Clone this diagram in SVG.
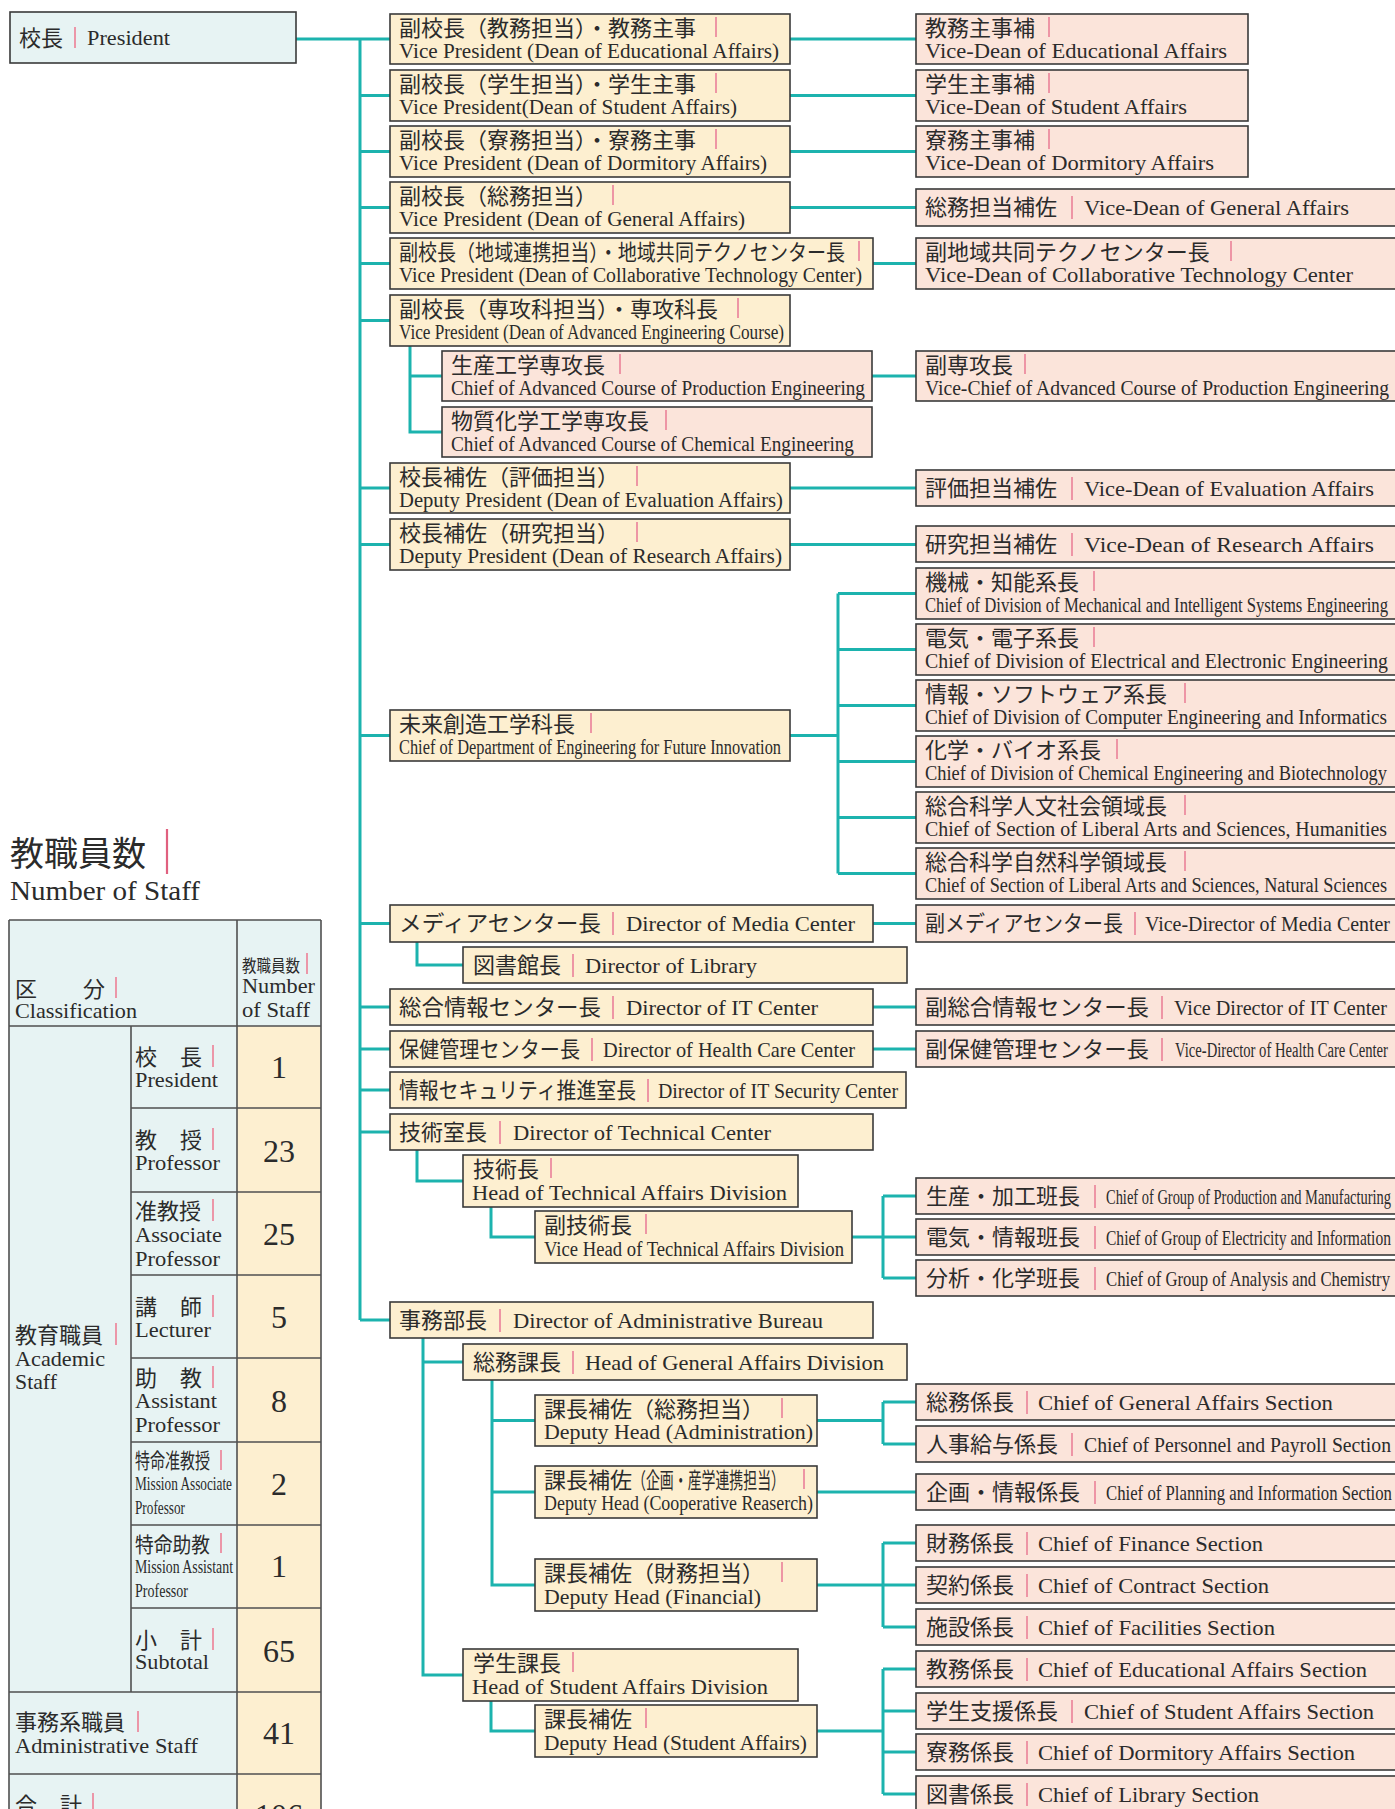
<svg xmlns="http://www.w3.org/2000/svg" width="1395" height="1809" viewBox="0 0 1395 1809">
<style>
.L{fill:#fdefd0;stroke:#3a3a3a;stroke-width:1.6}
.R{fill:#fbe4da;stroke:#3a3a3a;stroke-width:1.6}
.P{fill:#e7f3f3;stroke:#3a3a3a;stroke-width:1.6}
.C{fill:#e7f3f3}
.Y{fill:#fdefd0}
.tl{stroke:#505050;stroke-width:1.6;fill:none}
.cn{stroke:#1cb3ae;stroke-width:3;fill:none}
.bar{stroke:#ec8ca0;stroke-width:1.8}
text{font-family:"Liberation Serif","Noto Sans CJK JP",serif;fill:#2b2b2b}
.jp{font-size:22px}
.en{font-size:20px}
.e1{font-size:22px}
.num{font-size:32px;text-anchor:middle}
</style>
<rect width="1395" height="1809" fill="#ffffff"/>

<g id="connectors">
<path class="cn" d="M296,39H360M360,39V1320M360,39H390M360,95.5H390M360,151.5H390M360,207.5H390M360,263.5H390M360,320.5H390M360,488H390M360,544.5H390M360,735.5H390M360,923.5H390M360,1007H390M360,1049H390M360,1090H390M360,1132H390M360,1320H390"/>
<path class="cn" d="M790,39H916M790,95.5H916M790,151.5H916M790,207.5H916M873,263.5H916M872,376H916M790,488H916M790,544.5H916"/>
<path class="cn" d="M410,346V432H442M410,376H442"/>
<path class="cn" d="M790,735.5H838M838,593.5V873.5M838,593.5H916M838,649.5H916M838,705.5H916M838,761.5H916M838,817.5H916M838,873.5H916"/>
<path class="cn" d="M873,923.5H916M417,942V965H463M873,1007H916M873,1049H916"/>
<path class="cn" d="M417,1150V1181H463M491,1207V1237H535M852,1237H883M883,1196V1278M883,1196H916M883,1237H916M883,1278H916"/>
<path class="cn" d="M423,1338V1675H463M423,1362H463M492,1380V1585H535M492,1420.5H535M492,1492H535M491,1701V1731H535"/>
<path class="cn" d="M817,1420.5H883M883,1402V1444M883,1402H916M883,1444H916M817,1492H916M817,1585H883M883,1543V1627M883,1543H916M883,1585H916M883,1627H916M817,1731H883M883,1669V1794M883,1669H916M883,1711H916M883,1752H916M883,1794H916"/>
</g>

<g id="president">
<rect class="P" x="10" y="12" width="286" height="51"/>
<text class="jp" x="19" y="46">校長</text><line class="bar" x1="75" y1="27" x2="75" y2="48"/>
<text class="e1" x="87" y="45" textLength="83" lengthAdjust="spacingAndGlyphs">President</text>
</g>

<g id="vp-edu">
<rect class="L" x="390" y="14" width="400" height="50"/>
<text class="jp" x="399" y="36">副校長（教務担当）・教務主事</text><line class="bar" x1="716" y1="17" x2="716" y2="37"/>
<text class="en" x="399" y="58" textLength="380" lengthAdjust="spacingAndGlyphs">Vice President (Dean of Educational Affairs)</text>
</g>
<g id="vp-stu">
<rect class="L" x="390" y="70" width="400" height="51"/>
<text class="jp" x="399" y="92">副校長（学生担当）・学生主事</text><line class="bar" x1="716" y1="73" x2="716" y2="93"/>
<text class="en" x="399" y="114" textLength="338" lengthAdjust="spacingAndGlyphs">Vice President(Dean of Student Affairs)</text>
</g>
<g id="vp-dorm">
<rect class="L" x="390" y="126" width="400" height="51"/>
<text class="jp" x="399" y="148">副校長（寮務担当）・寮務主事</text><line class="bar" x1="716" y1="129" x2="716" y2="149"/>
<text class="en" x="399" y="170" textLength="368" lengthAdjust="spacingAndGlyphs">Vice President (Dean of Dormitory Affairs)</text>
</g>
<g id="vp-gen">
<rect class="L" x="390" y="182" width="400" height="51"/>
<text class="jp" x="399" y="204">副校長（総務担当）</text><line class="bar" x1="613" y1="185" x2="613" y2="205"/>
<text class="en" x="399" y="226" textLength="346" lengthAdjust="spacingAndGlyphs">Vice President (Dean of General Affairs)</text>
</g>
<g id="vp-collab">
<rect class="L" x="390" y="238" width="483" height="51"/>
<text class="jp" x="399" y="260" textLength="446" lengthAdjust="spacingAndGlyphs">副校長（地域連携担当）・地域共同テクノセンター長</text><line class="bar" x1="859" y1="241" x2="859" y2="261"/>
<text class="en" x="399" y="282" textLength="463" lengthAdjust="spacingAndGlyphs">Vice President (Dean of Collaborative Technology Center)</text>
</g>
<g id="vp-adv">
<rect class="L" x="390" y="295" width="400" height="51"/>
<text class="jp" x="399" y="317">副校長（専攻科担当）・専攻科長</text><line class="bar" x1="738" y1="298" x2="738" y2="318"/>
<text class="en" x="399" y="339" textLength="385" lengthAdjust="spacingAndGlyphs">Vice President  (Dean of Advanced Engineering Course)</text>
</g>
<g id="adv-prod">
<rect class="R" x="442" y="351" width="430" height="50"/>
<text class="jp" x="451" y="373">生産工学専攻長</text><line class="bar" x1="620" y1="354" x2="620" y2="374"/>
<text class="en" x="451" y="395" textLength="414" lengthAdjust="spacingAndGlyphs">Chief of Advanced Course of Production Engineering</text>
</g>
<g id="adv-chem">
<rect class="R" x="442" y="407" width="430" height="50"/>
<text class="jp" x="451" y="429">物質化学工学専攻長</text><line class="bar" x1="666" y1="410" x2="666" y2="430"/>
<text class="en" x="451" y="451" textLength="403" lengthAdjust="spacingAndGlyphs">Chief of Advanced Course of Chemical Engineering</text>
</g>
<g id="dp-eval">
<rect class="L" x="390" y="463" width="400" height="50"/>
<text class="jp" x="399" y="485">校長補佐（評価担当）</text><line class="bar" x1="637" y1="466" x2="637" y2="486"/>
<text class="en" x="399" y="507" textLength="384" lengthAdjust="spacingAndGlyphs">Deputy President (Dean of Evaluation Affairs)</text>
</g>
<g id="dp-res">
<rect class="L" x="390" y="519" width="400" height="51"/>
<text class="jp" x="399" y="541">校長補佐（研究担当）</text><line class="bar" x1="637" y1="522" x2="637" y2="542"/>
<text class="en" x="399" y="563" textLength="383" lengthAdjust="spacingAndGlyphs">Deputy President (Dean of Research Affairs)</text>
</g>
<g id="dept-future">
<rect class="L" x="390" y="710" width="400" height="51"/>
<text class="jp" x="399" y="732">未来創造工学科長</text><line class="bar" x1="591" y1="713" x2="591" y2="733"/>
<text class="en" x="399" y="754" textLength="382" lengthAdjust="spacingAndGlyphs">Chief of Department of Engineering for Future Innovation</text>
</g>

<g id="media">
<rect class="L" x="390" y="905" width="483" height="37"/>
<text class="jp" x="399" y="931" textLength="202" lengthAdjust="spacingAndGlyphs">メディアセンター長</text><line class="bar" x1="613" y1="912" x2="613" y2="935"/>
<text class="e1" x="626" y="931" textLength="229" lengthAdjust="spacingAndGlyphs">Director of Media Center</text>
</g>
<g id="library">
<rect class="L" x="463" y="947" width="444" height="36"/>
<text class="jp" x="473" y="973">図書館長</text><line class="bar" x1="573" y1="954" x2="573" y2="977"/>
<text class="e1" x="585" y="973" textLength="172" lengthAdjust="spacingAndGlyphs">Director of Library</text>
</g>
<g id="itc">
<rect class="L" x="390" y="989" width="483" height="36"/>
<text class="jp" x="399" y="1015" textLength="202" lengthAdjust="spacingAndGlyphs">総合情報センター長</text><line class="bar" x1="613" y1="996" x2="613" y2="1019"/>
<text class="e1" x="626" y="1015" textLength="192" lengthAdjust="spacingAndGlyphs">Director of IT Center</text>
</g>
<g id="health">
<rect class="L" x="390" y="1031" width="483" height="36"/>
<text class="jp" x="399" y="1057" textLength="181" lengthAdjust="spacingAndGlyphs">保健管理センター長</text><line class="bar" x1="592" y1="1038" x2="592" y2="1061"/>
<text class="e1" x="603" y="1057" textLength="252" lengthAdjust="spacingAndGlyphs">Director of Health Care Center</text>
</g>
<g id="security">
<rect class="L" x="390" y="1072" width="516" height="36"/>
<text class="jp" x="399" y="1098" textLength="237" lengthAdjust="spacingAndGlyphs">情報セキュリティ推進室長</text><line class="bar" x1="648" y1="1079" x2="648" y2="1102"/>
<text class="e1" x="658" y="1098" textLength="240" lengthAdjust="spacingAndGlyphs">Director of IT Security Center</text>
</g>
<g id="tech-center">
<rect class="L" x="390" y="1114" width="483" height="36"/>
<text class="jp" x="399" y="1140">技術室長</text><line class="bar" x1="500" y1="1121" x2="500" y2="1144"/>
<text class="e1" x="513" y="1140" textLength="258" lengthAdjust="spacingAndGlyphs">Director of Technical Center</text>
</g>
<g id="tech-head">
<rect class="L" x="463" y="1155" width="335" height="52"/>
<text class="jp" x="473" y="1177">技術長</text><line class="bar" x1="551" y1="1158" x2="551" y2="1178"/>
<text class="e1" x="472" y="1200" textLength="315" lengthAdjust="spacingAndGlyphs">Head of Technical Affairs Division</text>
</g>
<g id="tech-vice">
<rect class="L" x="535" y="1211" width="317" height="52"/>
<text class="jp" x="544" y="1233">副技術長</text><line class="bar" x1="646" y1="1214" x2="646" y2="1234"/>
<text class="en" x="544" y="1256" textLength="300" lengthAdjust="spacingAndGlyphs">Vice Head of Technical Affairs Division</text>
</g>
<g id="admin-bureau">
<rect class="L" x="390" y="1302" width="483" height="36"/>
<text class="jp" x="399" y="1328">事務部長</text><line class="bar" x1="500" y1="1309" x2="500" y2="1332"/>
<text class="e1" x="513" y="1328" textLength="310" lengthAdjust="spacingAndGlyphs">Director of Administrative Bureau</text>
</g>
<g id="gen-div">
<rect class="L" x="463" y="1344" width="444" height="36"/>
<text class="jp" x="473" y="1370">総務課長</text><line class="bar" x1="573" y1="1351" x2="573" y2="1374"/>
<text class="e1" x="585" y="1370" textLength="299" lengthAdjust="spacingAndGlyphs">Head of General Affairs Division</text>
</g>
<g id="dh-admin">
<rect class="L" x="535" y="1395" width="282" height="51"/>
<text class="jp" x="544" y="1417">課長補佐（総務担当）</text><line class="bar" x1="782" y1="1398" x2="782" y2="1418"/>
<text class="en" x="544" y="1439" textLength="269" lengthAdjust="spacingAndGlyphs">Deputy Head (Administration)</text>
</g>
<g id="dh-coop">
<rect class="L" x="535" y="1466" width="282" height="52"/>
<text class="jp" x="544" y="1488">課長補佐</text><text class="jp" x="632" y="1488" textLength="153" lengthAdjust="spacingAndGlyphs">（企画・産学連携担当）</text><line class="bar" x1="804" y1="1469" x2="804" y2="1489"/>
<text class="en" x="544" y="1510" textLength="269" lengthAdjust="spacingAndGlyphs">Deputy Head (Cooperative Reaserch)</text>
</g>
<g id="dh-fin">
<rect class="L" x="535" y="1559" width="282" height="52"/>
<text class="jp" x="544" y="1581">課長補佐（財務担当）</text><line class="bar" x1="782" y1="1562" x2="782" y2="1582"/>
<text class="e1" x="544" y="1604" textLength="217" lengthAdjust="spacingAndGlyphs">Deputy Head (Financial)</text>
</g>
<g id="stu-div">
<rect class="L" x="463" y="1649" width="335" height="52"/>
<text class="jp" x="473" y="1671">学生課長</text><line class="bar" x1="573" y1="1652" x2="573" y2="1672"/>
<text class="e1" x="472" y="1694" textLength="296" lengthAdjust="spacingAndGlyphs">Head of Student Affairs Division</text>
</g>
<g id="dh-stu">
<rect class="L" x="535" y="1705" width="282" height="52"/>
<text class="jp" x="544" y="1727">課長補佐</text><line class="bar" x1="646" y1="1708" x2="646" y2="1728"/>
<text class="e1" x="544" y="1750" textLength="263" lengthAdjust="spacingAndGlyphs">Deputy Head (Student Affairs)</text>
</g>

<g id="vd-edu">
<rect class="R" x="916" y="14" width="332" height="50"/>
<text class="jp" x="925" y="36">教務主事補</text><line class="bar" x1="1049" y1="17" x2="1049" y2="37"/>
<text class="e1" x="925" y="58" textLength="302" lengthAdjust="spacingAndGlyphs">Vice-Dean of Educational Affairs</text>
</g>
<g id="vd-stu">
<rect class="R" x="916" y="70" width="332" height="51"/>
<text class="jp" x="925" y="92">学生主事補</text><line class="bar" x1="1049" y1="73" x2="1049" y2="93"/>
<text class="e1" x="925" y="114" textLength="262" lengthAdjust="spacingAndGlyphs">Vice-Dean of Student Affairs</text>
</g>
<g id="vd-dorm">
<rect class="R" x="916" y="126" width="332" height="51"/>
<text class="jp" x="925" y="148">寮務主事補</text><line class="bar" x1="1049" y1="129" x2="1049" y2="149"/>
<text class="e1" x="925" y="170" textLength="289" lengthAdjust="spacingAndGlyphs">Vice-Dean of Dormitory Affairs</text>
</g>
<g id="vd-gen">
<rect class="R" x="916" y="189" width="484" height="37"/>
<text class="jp" x="925" y="215">総務担当補佐</text><line class="bar" x1="1072" y1="196" x2="1072" y2="219"/>
<text class="e1" x="1084" y="215" textLength="265" lengthAdjust="spacingAndGlyphs">Vice-Dean of General Affairs</text>
</g>
<g id="vd-collab">
<rect class="R" x="916" y="238" width="484" height="51"/>
<text class="jp" x="925" y="260">副地域共同テクノセンター長</text><line class="bar" x1="1231" y1="241" x2="1231" y2="261"/>
<text class="e1" x="925" y="282" textLength="428" lengthAdjust="spacingAndGlyphs">Vice-Dean of Collaborative Technology Center</text>
</g>
<g id="vc-adv">
<rect class="R" x="916" y="351" width="484" height="50"/>
<text class="jp" x="925" y="373">副専攻長</text><line class="bar" x1="1025" y1="354" x2="1025" y2="374"/>
<text class="en" x="925" y="395" textLength="464" lengthAdjust="spacingAndGlyphs">Vice-Chief of Advanced Course of Production Engineering</text>
</g>
<g id="vd-eval">
<rect class="R" x="916" y="470" width="484" height="36"/>
<text class="jp" x="925" y="496">評価担当補佐</text><line class="bar" x1="1072" y1="477" x2="1072" y2="500"/>
<text class="e1" x="1084" y="496" textLength="290" lengthAdjust="spacingAndGlyphs">Vice-Dean of Evaluation Affairs</text>
</g>
<g id="vd-res">
<rect class="R" x="916" y="526" width="484" height="36"/>
<text class="jp" x="925" y="552">研究担当補佐</text><line class="bar" x1="1072" y1="533" x2="1072" y2="556"/>
<text class="e1" x="1084" y="552" textLength="290" lengthAdjust="spacingAndGlyphs">Vice-Dean of Research Affairs</text>
</g>

<g id="div-mech">
<rect class="R" x="916" y="568" width="484" height="51"/>
<text class="jp" x="925" y="590">機械・知能系長</text><line class="bar" x1="1094" y1="571" x2="1094" y2="591"/>
<text class="en" x="925" y="612" textLength="463" lengthAdjust="spacingAndGlyphs">Chief of Division of Mechanical and Intelligent Systems Engineering</text>
</g>
<g id="div-elec">
<rect class="R" x="916" y="624" width="484" height="51"/>
<text class="jp" x="925" y="646">電気・電子系長</text><line class="bar" x1="1094" y1="627" x2="1094" y2="647"/>
<text class="en" x="925" y="668" textLength="463" lengthAdjust="spacingAndGlyphs">Chief of Division of Electrical and Electronic Engineering</text>
</g>
<g id="div-comp">
<rect class="R" x="916" y="680" width="484" height="51"/>
<text class="jp" x="925" y="702">情報・ソフトウェア系長</text><line class="bar" x1="1185" y1="683" x2="1185" y2="703"/>
<text class="en" x="925" y="724" textLength="462" lengthAdjust="spacingAndGlyphs">Chief of Division of Computer Engineering and Informatics</text>
</g>
<g id="div-chem">
<rect class="R" x="916" y="736" width="484" height="51"/>
<text class="jp" x="925" y="758">化学・バイオ系長</text><line class="bar" x1="1117" y1="739" x2="1117" y2="759"/>
<text class="en" x="925" y="780" textLength="462" lengthAdjust="spacingAndGlyphs">Chief of Division of Chemical Engineering and Biotechnology</text>
</g>
<g id="sec-hum">
<rect class="R" x="916" y="792" width="484" height="51"/>
<text class="jp" x="925" y="814">総合科学人文社会領域長</text><line class="bar" x1="1185" y1="795" x2="1185" y2="815"/>
<text class="en" x="925" y="836" textLength="462" lengthAdjust="spacingAndGlyphs">Chief of Section of Liberal Arts and Sciences, Humanities</text>
</g>
<g id="sec-nat">
<rect class="R" x="916" y="848" width="484" height="51"/>
<text class="jp" x="925" y="870">総合科学自然科学領域長</text><line class="bar" x1="1185" y1="851" x2="1185" y2="871"/>
<text class="en" x="925" y="892" textLength="462" lengthAdjust="spacingAndGlyphs">Chief of Section of Liberal Arts and Sciences, Natural Sciences</text>
</g>

<g id="vd-media">
<rect class="R" x="916" y="905" width="484" height="37"/>
<text class="jp" x="925" y="931" textLength="198" lengthAdjust="spacingAndGlyphs">副メディアセンター長</text><line class="bar" x1="1135" y1="912" x2="1135" y2="935"/>
<text class="e1" x="1145" y="931" textLength="245" lengthAdjust="spacingAndGlyphs">Vice-Director of Media Center</text>
</g>
<g id="vd-itc">
<rect class="R" x="916" y="989" width="484" height="36"/>
<text class="jp" x="925" y="1015" textLength="224" lengthAdjust="spacingAndGlyphs">副総合情報センター長</text><line class="bar" x1="1162" y1="996" x2="1162" y2="1019"/>
<text class="e1" x="1174" y="1015" textLength="213" lengthAdjust="spacingAndGlyphs">Vice Director of IT Center</text>
</g>
<g id="vd-health">
<rect class="R" x="916" y="1031" width="484" height="36"/>
<text class="jp" x="925" y="1057" textLength="224" lengthAdjust="spacingAndGlyphs">副保健管理センター長</text><line class="bar" x1="1162" y1="1038" x2="1162" y2="1061"/>
<text class="en" x="1175" y="1057" textLength="213" lengthAdjust="spacingAndGlyphs">Vice-Director of Health Care Center</text>
</g>

<g id="grp-prod">
<rect class="R" x="916" y="1178" width="484" height="36"/>
<text class="jp" x="926" y="1204">生産・加工班長</text><line class="bar" x1="1095" y1="1185" x2="1095" y2="1208"/>
<text class="e1" x="1106" y="1204" textLength="285" lengthAdjust="spacingAndGlyphs">Chief of Group of Production and Manufacturing</text>
</g>
<g id="grp-elec">
<rect class="R" x="916" y="1219" width="484" height="36"/>
<text class="jp" x="926" y="1245">電気・情報班長</text><line class="bar" x1="1095" y1="1226" x2="1095" y2="1249"/>
<text class="e1" x="1106" y="1245" textLength="285" lengthAdjust="spacingAndGlyphs">Chief of Group of Electricity and Information</text>
</g>
<g id="grp-anal">
<rect class="R" x="916" y="1260" width="484" height="36"/>
<text class="jp" x="926" y="1286">分析・化学班長</text><line class="bar" x1="1095" y1="1267" x2="1095" y2="1290"/>
<text class="e1" x="1106" y="1286" textLength="284" lengthAdjust="spacingAndGlyphs">Chief of Group of Analysis and Chemistry</text>
</g>

<g id="sec-gen">
<rect class="R" x="916" y="1384" width="484" height="36"/>
<text class="jp" x="926" y="1410">総務係長</text><line class="bar" x1="1027" y1="1391" x2="1027" y2="1414"/>
<text class="e1" x="1038" y="1410" textLength="295" lengthAdjust="spacingAndGlyphs">Chief of General Affairs Section</text>
</g>
<g id="sec-pers">
<rect class="R" x="916" y="1426" width="484" height="36"/>
<text class="jp" x="926" y="1452">人事給与係長</text><line class="bar" x1="1072" y1="1433" x2="1072" y2="1456"/>
<text class="e1" x="1084" y="1452" textLength="307" lengthAdjust="spacingAndGlyphs">Chief of Personnel and Payroll Section</text>
</g>
<g id="sec-plan">
<rect class="R" x="916" y="1474" width="484" height="36"/>
<text class="jp" x="926" y="1500">企画・情報係長</text><line class="bar" x1="1095" y1="1481" x2="1095" y2="1504"/>
<text class="e1" x="1106" y="1500" textLength="286" lengthAdjust="spacingAndGlyphs">Chief of Planning and Information Section</text>
</g>
<g id="sec-fin">
<rect class="R" x="916" y="1525" width="484" height="36"/>
<text class="jp" x="926" y="1551">財務係長</text><line class="bar" x1="1027" y1="1532" x2="1027" y2="1555"/>
<text class="e1" x="1038" y="1551" textLength="225" lengthAdjust="spacingAndGlyphs">Chief of Finance Section</text>
</g>
<g id="sec-cont">
<rect class="R" x="916" y="1567" width="484" height="36"/>
<text class="jp" x="926" y="1593">契約係長</text><line class="bar" x1="1027" y1="1574" x2="1027" y2="1597"/>
<text class="e1" x="1038" y="1593" textLength="231" lengthAdjust="spacingAndGlyphs">Chief of Contract Section</text>
</g>
<g id="sec-fac">
<rect class="R" x="916" y="1609" width="484" height="36"/>
<text class="jp" x="926" y="1635">施設係長</text><line class="bar" x1="1027" y1="1616" x2="1027" y2="1639"/>
<text class="e1" x="1038" y="1635" textLength="237" lengthAdjust="spacingAndGlyphs">Chief of Facilities Section</text>
</g>
<g id="sec-edu">
<rect class="R" x="916" y="1651" width="484" height="36"/>
<text class="jp" x="926" y="1677">教務係長</text><line class="bar" x1="1027" y1="1658" x2="1027" y2="1681"/>
<text class="e1" x="1038" y="1677" textLength="329" lengthAdjust="spacingAndGlyphs">Chief of Educational Affairs Section</text>
</g>
<g id="sec-stu">
<rect class="R" x="916" y="1693" width="484" height="36"/>
<text class="jp" x="926" y="1719">学生支援係長</text><line class="bar" x1="1072" y1="1700" x2="1072" y2="1723"/>
<text class="e1" x="1084" y="1719" textLength="290" lengthAdjust="spacingAndGlyphs">Chief of Student Affairs Section</text>
</g>
<g id="sec-dorm">
<rect class="R" x="916" y="1734" width="484" height="36"/>
<text class="jp" x="926" y="1760">寮務係長</text><line class="bar" x1="1027" y1="1741" x2="1027" y2="1764"/>
<text class="e1" x="1038" y="1760" textLength="317" lengthAdjust="spacingAndGlyphs">Chief of Dormitory Affairs Section</text>
</g>
<g id="sec-lib">
<rect class="R" x="916" y="1776" width="484" height="40"/>
<text class="jp" x="926" y="1802">図書係長</text><line class="bar" x1="1027" y1="1783" x2="1027" y2="1806"/>
<text class="e1" x="1038" y="1802" textLength="221" lengthAdjust="spacingAndGlyphs">Chief of Library Section</text>
</g>

<g id="staff-table">
<text x="10" y="866" style="font-size:34px">教職員数</text>
<line x1="167" y1="829" x2="167" y2="874" stroke="#e0607f" stroke-width="2.2"/>
<text x="10" y="900" style="font-size:27px" textLength="190" lengthAdjust="spacingAndGlyphs">Number of Staff</text>

<rect class="C" x="9" y="920" width="312" height="900"/>
<rect class="Y" x="237" y="1026" width="84" height="800"/>
<path class="tl" d="M9,920H321M9,920V1815M321,920V1815M237,920V1815M131,1026V1692M9,1026H321M131,1108H321M131,1192H321M131,1275H321M131,1358H321M131,1442H321M131,1525H321M131,1608H321M9,1692H321M9,1774H321"/>

<text class="jp" x="15" y="997">区</text><text class="jp" x="83" y="997">分</text><line class="bar" x1="116" y1="977" x2="116" y2="998"/>
<text class="jp" x="15" y="1018" textLength="122" lengthAdjust="spacingAndGlyphs">Classification</text>
<text x="242" y="972" style="font-size:17px" textLength="58" lengthAdjust="spacingAndGlyphs">教職員数</text><line class="bar" x1="307" y1="953" x2="307" y2="974"/>
<text class="jp" x="242" y="993" textLength="73" lengthAdjust="spacingAndGlyphs">Number</text>
<text class="jp" x="242" y="1017" textLength="68" lengthAdjust="spacingAndGlyphs">of Staff</text>

<text class="jp" x="135" y="1065">校</text><text class="jp" x="180" y="1065">長</text><line class="bar" x1="213" y1="1045" x2="213" y2="1067"/>
<text class="jp" x="135" y="1087" textLength="83" lengthAdjust="spacingAndGlyphs">President</text>
<text class="num" x="279" y="1078">1</text>

<text class="jp" x="135" y="1148">教</text><text class="jp" x="180" y="1148">授</text><line class="bar" x1="213" y1="1128" x2="213" y2="1150"/>
<text class="jp" x="135" y="1170" textLength="85" lengthAdjust="spacingAndGlyphs">Professor</text>
<text class="num" x="279" y="1162">23</text>

<text class="jp" x="135" y="1219">准教授</text><line class="bar" x1="213" y1="1199" x2="213" y2="1221"/>
<text class="jp" x="135" y="1242" textLength="87" lengthAdjust="spacingAndGlyphs">Associate</text>
<text class="jp" x="135" y="1266" textLength="85" lengthAdjust="spacingAndGlyphs">Professor</text>
<text class="num" x="279" y="1245">25</text>

<text class="jp" x="135" y="1315">講</text><text class="jp" x="180" y="1315">師</text><line class="bar" x1="213" y1="1295" x2="213" y2="1317"/>
<text class="jp" x="135" y="1337" textLength="76" lengthAdjust="spacingAndGlyphs">Lecturer</text>
<text class="num" x="279" y="1328">5</text>

<text class="jp" x="135" y="1386">助</text><text class="jp" x="180" y="1386">教</text><line class="bar" x1="213" y1="1366" x2="213" y2="1388"/>
<text class="jp" x="135" y="1408" textLength="82" lengthAdjust="spacingAndGlyphs">Assistant</text>
<text class="jp" x="135" y="1432" textLength="85" lengthAdjust="spacingAndGlyphs">Professor</text>
<text class="num" x="279" y="1412">8</text>

<text x="135" y="1468" style="font-size:21px" textLength="75" lengthAdjust="spacingAndGlyphs">特命准教授</text><line class="bar" x1="221" y1="1450" x2="221" y2="1470"/>
<text x="135" y="1490" style="font-size:19px" textLength="97" lengthAdjust="spacingAndGlyphs">Mission Associate</text>
<text x="135" y="1514" style="font-size:19px" textLength="50" lengthAdjust="spacingAndGlyphs">Professor</text>
<text class="num" x="279" y="1495">2</text>

<text x="135" y="1552" style="font-size:21px" textLength="75" lengthAdjust="spacingAndGlyphs">特命助教</text><line class="bar" x1="221" y1="1533" x2="221" y2="1553"/>
<text x="135" y="1573" style="font-size:19px" textLength="98" lengthAdjust="spacingAndGlyphs">Mission Assistant</text>
<text x="135" y="1597" style="font-size:19px" textLength="53" lengthAdjust="spacingAndGlyphs">Professor</text>
<text class="num" x="279" y="1577">1</text>

<text class="jp" x="135" y="1648">小</text><text class="jp" x="180" y="1648">計</text><line class="bar" x1="213" y1="1628" x2="213" y2="1650"/>
<text class="jp" x="135" y="1669" textLength="74" lengthAdjust="spacingAndGlyphs">Subtotal</text>
<text class="num" x="279" y="1662">65</text>

<text class="jp" x="15" y="1343">教育職員</text><line class="bar" x1="116" y1="1323" x2="116" y2="1345"/>
<text class="jp" x="15" y="1366" textLength="90" lengthAdjust="spacingAndGlyphs">Academic</text>
<text class="jp" x="15" y="1389" textLength="42" lengthAdjust="spacingAndGlyphs">Staff</text>

<text class="jp" x="15" y="1730">事務系職員</text><line class="bar" x1="138" y1="1711" x2="138" y2="1732"/>
<text class="jp" x="15" y="1753" textLength="183" lengthAdjust="spacingAndGlyphs">Administrative Staff</text>
<text class="num" x="279" y="1744">41</text>

<text class="jp" x="15" y="1813">合</text><text class="jp" x="60" y="1813">計</text><line class="bar" x1="93" y1="1793" x2="93" y2="1815"/>
<text class="num" x="279" y="1826">106</text>
</g>
</svg>
